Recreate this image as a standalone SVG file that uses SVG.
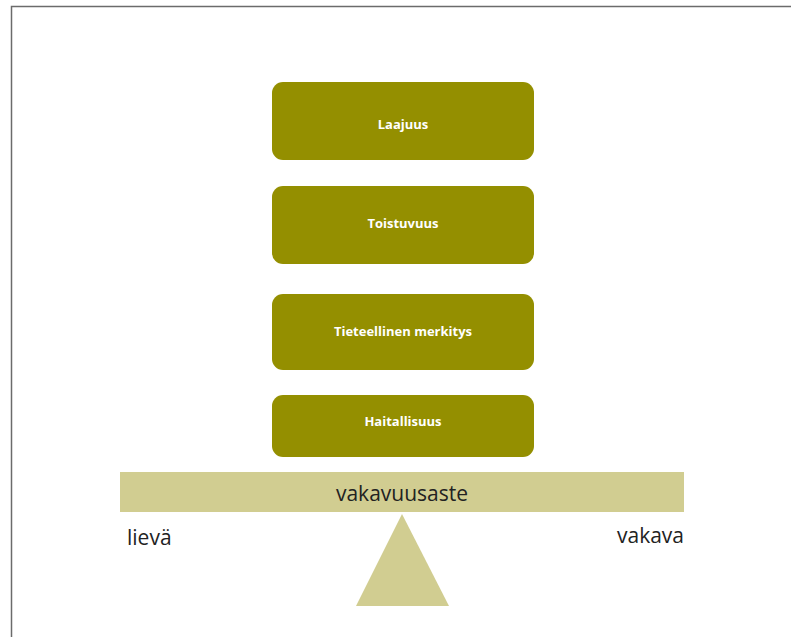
<svg xmlns="http://www.w3.org/2000/svg" width="791" height="637" viewBox="0 0 791 637">
<style>
.box{fill:#948f00}
.bt{fill:#ffffff;font-family:"Open Sans","Noto Sans",sans-serif;font-weight:bold;font-size:13px;text-anchor:middle;dominant-baseline:central}
.lt{fill:#222222;font-family:"Open Sans","Noto Sans",sans-serif;font-size:21px;dominant-baseline:central}
</style>
<rect width="791" height="637" fill="#ffffff"/>
<path d="M11.5,637 V6.5 H791" fill="none" stroke="#6b6b6b" stroke-width="1.5"/>
<g id="laajuus"><rect class="box" x="272" y="82" width="262" height="78" rx="11"/><text class="bt" x="403" y="124">Laajuus</text></g>
<g id="toistuvuus"><rect class="box" x="272" y="186" width="262" height="78" rx="11"/><text class="bt" x="403" y="223">Toistuvuus</text></g>
<g id="tieteellinen"><rect class="box" x="272" y="294" width="262" height="76" rx="11"/><text class="bt" x="403" y="331">Tieteellinen merkitys</text></g>
<g id="haitallisuus"><rect class="box" x="272" y="395" width="262" height="62" rx="11"/><text class="bt" x="403" y="421">Haitallisuus</text></g>
<g id="beam"><rect x="120" y="472" width="564" height="40" fill="#d1cd91"/><text class="lt" x="402" y="493" text-anchor="middle">vakavuusaste</text></g>
<g id="fulcrum"><polygon points="402,514 449,606 356,606" fill="#d1cd91"/></g>
<g id="labels"><text class="lt" x="127" y="537">lievä</text><text class="lt" x="684" y="535" text-anchor="end">vakava</text></g>
<g id="connectors"></g>
</svg>
